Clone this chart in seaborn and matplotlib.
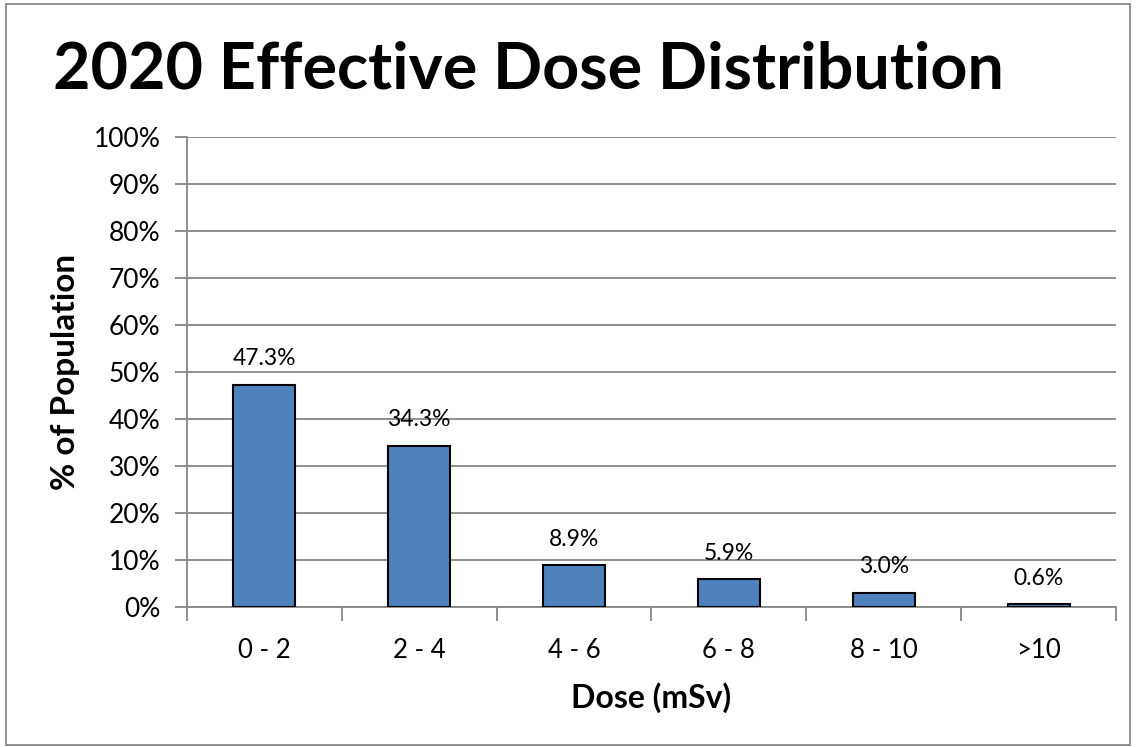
import matplotlib
matplotlib.use("Agg")
import matplotlib.pyplot as plt
import seaborn as sns
import pandas as pd
import numpy as np
from matplotlib.ticker import PercentFormatter, FixedLocator
from matplotlib.patches import Rectangle

categories = ["0 - 2", "2 - 4", "4 - 6", "6 - 8", "8 - 10", ">10"]
values = [47.3, 34.3, 8.9, 5.9, 3.0, 0.6]
labels = ["47.3%", "34.3%", "8.9%", "5.9%", "3.0%", "0.6%"]

sns.set_theme(style="white")
plt.rcParams['font.family'] = ['Lato', 'DejaVu Sans']
plt.rcParams['text.color'] = 'black'
plt.rcParams['xtick.labelcolor'] = 'black'
plt.rcParams['ytick.labelcolor'] = 'black'
plt.rcParams['axes.labelcolor'] = 'black'

fig = plt.figure(figsize=(11.37, 7.47), dpi=100)
ax = fig.add_axes([187/1137, 1-607/747, (1116-187)/1137, (607-137)/747])

df = pd.DataFrame({"cat": categories, "val": values})
sns.barplot(data=df, x="cat", y="val", ax=ax, color="#4F81BD", saturation=1,
            edgecolor="black", linewidth=1.5, width=0.4, zorder=3)

ax.set_ylim(0, 100)
ax.set_xlim(-0.5, 5.5)
ax.yaxis.set_major_locator(FixedLocator(np.arange(0, 101, 10)))
ax.yaxis.set_major_formatter(PercentFormatter(decimals=0))
ax.grid(axis="y", color="#868686", linewidth=1.3, zorder=0)
ax.set_axisbelow(True)

for s in ["top", "right"]:
    ax.spines[s].set_visible(False)
for s in ["left", "bottom"]:
    ax.spines[s].set_color("#868686")
    ax.spines[s].set_linewidth(1.3)

ax.tick_params(axis="y", which="major", length=9, width=1.3, color="#868686",
               labelsize=19, pad=10, left=True)
ax.tick_params(axis="x", which="major", length=0, labelsize=18.5, pad=22)
ax.set_xticks(np.arange(-0.5, 6, 1), minor=True)
ax.tick_params(axis="x", which="minor", length=10, width=1.3, color="#868686", bottom=True)

for i, (v, lab) in enumerate(zip(values, labels)):
    ax.text(i, v + 3.3, lab, ha="center", va="bottom", fontsize=16.5)

ax.set_xlabel("Dose (mSv)", fontsize=23, fontweight="bold", labelpad=14)
ax.set_ylabel("% of Population", fontsize=24, fontweight="bold", labelpad=10)

fig.text(0.465, 1-70/747, "2020 Effective Dose Distribution", ha="center", va="center",
         fontsize=46.5, fontweight="bold")

fig.patches.append(Rectangle((6/1137, 1-745/747), 1124/1137, 741/747, transform=fig.transFigure,
                             fill=False, edgecolor="#868686", linewidth=1.3))

fig.savefig("out.png", dpi=100)
